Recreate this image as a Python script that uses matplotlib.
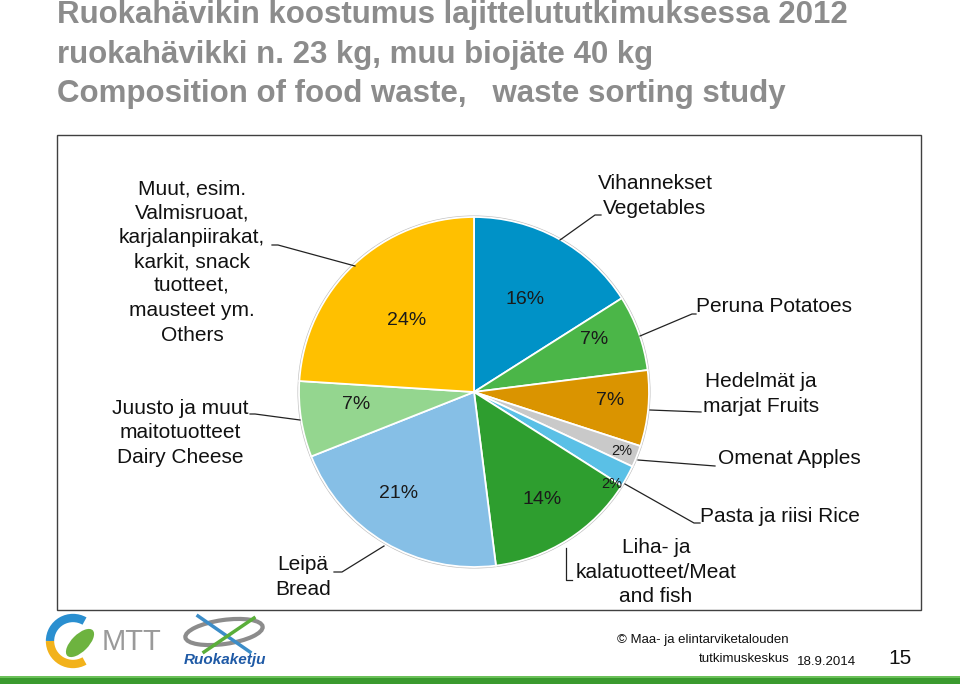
"""Ruokahävikin koostumus - pie chart slide"""

import matplotlib
matplotlib.use("Agg")
import matplotlib.pyplot as plt
import numpy as np
from matplotlib.patches import Rectangle, Circle, Ellipse, Arc

plt.rcParams['font.family'] = ['Liberation Sans', 'DejaVu Sans']

# --------------------------------------------------------------------------------------------
# Data
# --------------------------------------------------------------------------------------------

categories = ["Vihannekset\nVegetables",
              "Peruna Potatoes",
              "Hedelmät ja\nmarjat Fruits",
              "Omenat Apples",
              "Pasta ja riisi Rice",
              "Liha- ja\nkalatuotteet/Meat\nand fish",
              "Leipä\nBread",
              "Juusto ja muut\nmaitotuotteet\nDairy Cheese",
              "Muut, esim.\nValmisruoat,\nkarjalanpiirakat,\nkarkit, snack\ntuotteet,\nmausteet ym.\nOthers"]
shares = [16, 7, 7, 2, 2, 14, 21, 7, 24]
colors = ["#0092C7", "#4BB648", "#DA9400", "#C9C9C9", "#5AC0E6",
          "#2E9E2F", "#86BFE6", "#94D68F", "#FFC000"]

title_lines = ["Ruokahävikin koostumus lajittelututkimuksessa 2012",
               "ruokahävikki n. 23 kg, muu biojäte 40 kg",
               "Composition of food waste,   waste sorting study"]

# --------------------------------------------------------------------------------------------
# Layout (pixel coordinates, y downwards)
# --------------------------------------------------------------------------------------------

W, H = 960, 684
cx, cy, R = 474, 392, 175

# radial position of the percentage labels (fraction of R) and font sizes
pct_r = [0.60, 0.75, 0.78, 0.91, 0.95, 0.73, 0.72, 0.68, 0.56]
pct_dt = [0, -4, -2, 0, 5, 0, 6, 3, 0]
pct_fs = [14, 14, 14, 10.5, 10.5, 14, 14, 14, 14]

# name label anchor (x, y, ha)
label_pos = [(655, 196, 'center'), (696, 307, 'left'), (761, 394, 'center'),
             (718, 459, 'left'), (700, 517, 'left'), (656, 572, 'center'),
             (303, 577, 'center'), (180, 433, 'center'), (192, 262, 'center')]

leaders = [[(560, 240), (595, 215), (601, 215)],
           [(640, 336), (692, 314), (696, 314)],
           [(650, 410), (701, 412)],
           [(638, 460), (715, 466)],
           [(625, 484), (694, 523), (700, 523)],
           [(566, 548), (566, 580), (572, 580)],
           [(384, 546), (342, 572), (334, 572)],
           [(300, 420), (255, 414), (250, 414)],
           [(355, 266), (278, 245), (272, 245)]]

fig = plt.figure(figsize=(9.6, 6.84), dpi=100)
ax = fig.add_axes([0, 0, 1, 1])

# pie shadow outline
ax.add_patch(Circle((cx, cy), R + 1.5, facecolor="#BDBDBD", edgecolor="none", zorder=1))

# y axis is inverted, so counterclock=True draws clockwise on screen
wedges, _ = ax.pie(shares, colors=colors, startangle=-90, counterclock=True,
                   radius=R, center=(cx, cy),
                   wedgeprops=dict(edgecolor="white", linewidth=1.3, zorder=2))
for w in wedges:
    w.set_zorder(2)

for w, share, r, dt, fs in zip(wedges, shares, pct_r, pct_dt, pct_fs):
    mid = np.deg2rad((w.theta1 + w.theta2) / 2 + dt)
    ax.text(cx + r * R * np.cos(mid), cy + r * R * np.sin(mid), f"{share}%",
            ha='center', va='center', fontsize=fs, color="#1A1A1A", zorder=3)

for text, (x, y, ha) in zip(categories, label_pos):
    ax.text(x, y, text, ha=ha, va='center', multialignment='center',
            fontsize=15, linespacing=1.36, color="#111111", zorder=3)

for pts in leaders:
    xs, ys = zip(*pts)
    ax.plot(xs, ys, color="#222222", lw=0.9, zorder=3)

# chart frame
ax.add_patch(Rectangle((57, 135), 864, 475, facecolor="none",
                       edgecolor="#404040", lw=1.0, zorder=0))

# slide title
for i, line in enumerate(title_lines):
    ax.text(57, 15 + 39.5 * i, line, ha='left', va='center', fontsize=22.5,
            fontweight='bold', color="#8C8C8C")

# --------------------------------------------------------------------------------------------
# Footer
# --------------------------------------------------------------------------------------------

# MTT logo
ax.add_patch(Arc((73, 641), 46, 46, theta1=180, theta2=300, lw=6, color="#2A8FD0"))
ax.add_patch(Arc((73, 641), 46, 46, theta1=60, theta2=180, lw=6, color="#F2B21B"))
ax.add_patch(Ellipse((80, 643), 36, 17, angle=-45, facecolor="#6DB33F", edgecolor="none"))
ax.text(102, 642, "MTT", ha='left', va='center', fontsize=21, color="#9A9A9A")

# Ruokaketju logo
ax.add_patch(Ellipse((224, 632), 78, 24, angle=-8, facecolor="none",
                     edgecolor="#8C8C8C", lw=3))
ax.plot([198, 250], [616, 652], color="#3C8DC8", lw=2.5)
ax.plot([254, 204], [618, 652], color="#5AAE3A", lw=2.5)
ax.text(225, 660, "Ruokaketju", ha='center', va='center', fontsize=11,
        fontweight='bold', style='italic', color="#1F5AA6")

ax.text(617, 640, "© Maa- ja elintarviketalouden", ha='left', va='center',
        fontsize=9.5, color="#111111")
ax.text(790, 659, "tutkimuskeskus", ha='right', va='center', fontsize=9.5, color="#111111")
ax.text(797, 662, "18.9.2014", ha='left', va='center', fontsize=9.5, color="#111111")
ax.text(900, 659, "15", ha='center', va='center', fontsize=15, color="#111111")

# green bottom bar
ax.add_patch(Rectangle((0, 676), W, 8, facecolor="#3A9A2E", edgecolor="none"))
ax.add_patch(Rectangle((0, 676), W, 2, facecolor="#6CC15A", edgecolor="none"))

ax.set_xlim(0, W)
ax.set_ylim(H, 0)
ax.set_aspect('equal')
ax.axis('off')

fig.savefig("out.png", dpi=100)
